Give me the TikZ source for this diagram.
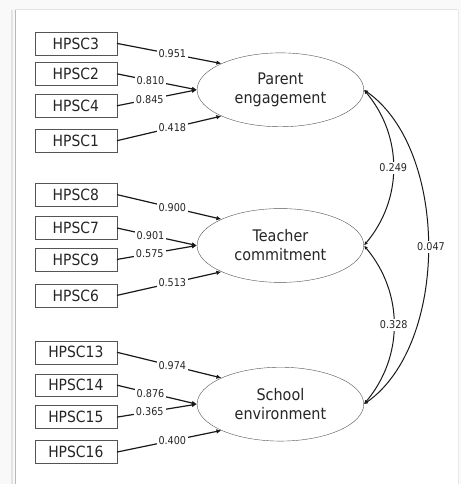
\documentclass[tikz,border=0pt]{standalone}
\usepackage{fontspec}
\setmainfont[FakeStretch=0.9]{DejaVu Sans}
\usetikzlibrary{arrows.meta,shapes.geometric}
\definecolor{cL}{rgb}{0.33,0.33,0.33}
\definecolor{cT}{rgb}{0.15,0.15,0.15}
\tikzset{mybox/.style={
  shape=rectangle,
  draw=cL,
  minimum width=82pt,
  minimum height=23pt,
  inner sep=0pt,
  font=\fontsize{15.5}{18}\selectfont,
  text = cT,
  }
}
\tikzset{mylatent/.style={
  shape=ellipse,
  draw=cL,
  minimum width=167pt,
  minimum height=74pt,
  inner sep=0pt,
  align=center,
  font=\fontsize{16}{19}\selectfont,
  text = cT,
  }
}
\tikzset{mycoef/.style={
  fill=white,
  inner sep=2pt,
  font=\fontsize{10.75}{12}\selectfont,
  text = cT,
  }
}
\tikzset{myload/.style={draw=black!90, line width=1.2pt, -{Latex[length=5pt,width=4.5pt]}}}
\tikzset{mycov/.style={draw=black!90, line width=1pt, {Latex[length=4pt,width=3.5pt]}-{Latex[length=4pt,width=3.5pt]}}}

\begin{document}
\begin{tikzpicture}[x=1pt,y=1pt]
      % page
      \fill[gray!5] (0,0) rectangle (462,485);
      \fill[white] (15,0) rectangle (459,475);
      \draw[gray!22, line width=2pt] (12.5,0) -- (12.5,475);
      \draw[gray!55, line width=1.5pt] (15.5,0) -- (15.5,475);
      \draw[gray!22, line width=1pt] (15,475.5) -- (459,475.5);
      \draw[gray!18] (459,0) -- (459,475);
      \useasboundingbox (0,0) rectangle (462,485);

      \node [mylatent] (pe) at (281,395) {Parent\\engagement};
      \node [mylatent] (tc) at (281,239) {Teacher\\commitment};
      \node [mylatent] (se) at (281,80) {School\\environment};

      \node [mybox] (h3) at (76,441.5) {HPSC3};
      \node [mybox] (h2) at (76,411) {HPSC2};
      \node [mybox] (h4) at (76,379) {HPSC4};
      \node [mybox] (h1) at (76,344) {HPSC1};

      \node [mybox] (h8) at (76,290) {HPSC8};
      \node [mybox] (h7) at (76,256.5) {HPSC7};
      \node [mybox] (h9) at (76,225) {HPSC9};
      \node [mybox] (h6) at (76,189) {HPSC6};

      \node [mybox] (h13) at (76,132) {HPSC13};
      \node [mybox] (h14) at (76,99) {HPSC14};
      \node [mybox] (h15) at (76,67) {HPSC15};
      \node [mybox] (h16) at (76,32) {HPSC16};

      % loadings
      \draw [myload] (h3.east) -- node[mycoef, pos=0.53] {0.951} (pe.156);
      \draw [myload] (h2.east) -- node[mycoef, pos=0.42] {0.810} (pe.west);
      \draw [myload] (h4.east) -- node[mycoef, pos=0.41] {0.845} (pe.west);
      \draw [myload] (h1.east) -- node[mycoef, pos=0.53] {0.418} (pe.204);

      \draw [myload] (h8.east) -- node[mycoef, pos=0.53] {0.900} (tc.156);
      \draw [myload] (h7.east) -- node[mycoef, pos=0.42] {0.901} (tc.west);
      \draw [myload] (h9.east) -- node[mycoef, pos=0.41] {0.575} (tc.west);
      \draw [myload] (h6.east) -- node[mycoef, pos=0.53] {0.513} (tc.204);

      \draw [myload] (h13.east) -- node[mycoef, pos=0.53] {0.974} (se.156);
      \draw [myload] (h14.east) -- node[mycoef, pos=0.42] {0.876} (se.west);
      \draw [myload] (h15.east) -- node[mycoef, pos=0.41] {0.365} (se.west);
      \draw [myload] (h16.east) -- node[mycoef, pos=0.53] {0.400} (se.204);

      % covariances
      \draw [mycov] (pe.east) to[out=-50, in=50] node[mycoef] {0.249} (tc.east);
      \draw [mycov] (tc.east) to[out=-50, in=50] node[mycoef] {0.328} (se.east);
      \begin{scope}
        \clip (0,0) rectangle (444,485);
        \draw [mycov] (pe.east) to[out=-35, in=35, looseness=0.85] node[mycoef, xshift=3pt] {0.047} (se.east);
      \end{scope}
\end{tikzpicture}
\end{document}
